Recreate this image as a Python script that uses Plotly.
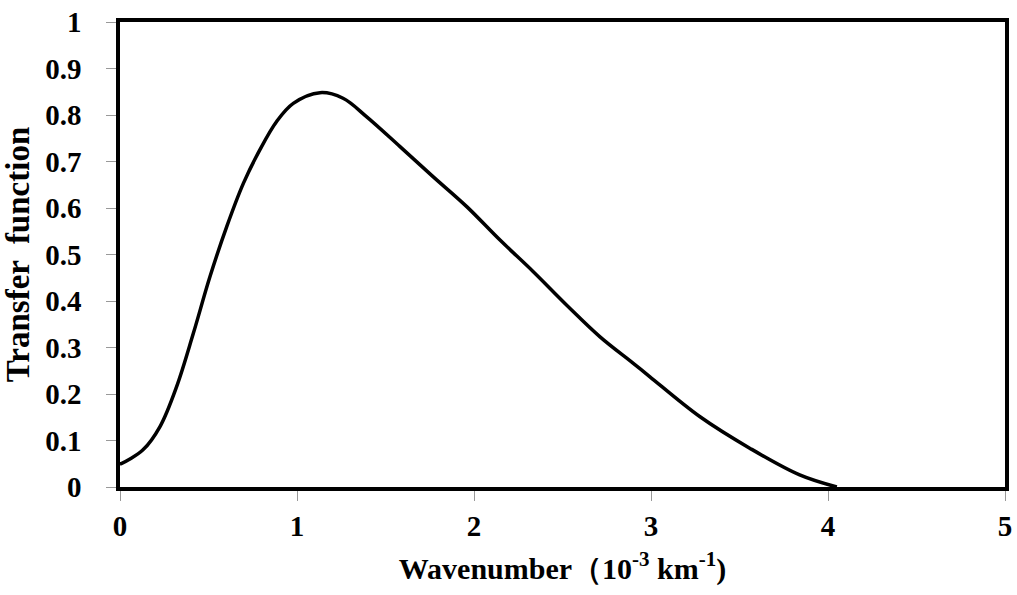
import plotly.graph_objects as go

# values
wavenumber = [0.0, 0.01, 0.13, 0.226, 0.32, 0.414, 0.508, 0.603, 0.697, 0.79, 0.885,
              0.979, 1.13, 1.26, 1.394, 1.582, 1.77, 1.959, 2.147, 2.335, 2.524,
              2.712, 2.9, 2.994, 3.277, 3.56, 3.84, 4.05]
transfer = [0.05, 0.051, 0.08, 0.13, 0.216, 0.33, 0.452, 0.56, 0.653, 0.725, 0.786,
            0.825, 0.848, 0.836, 0.796, 0.732, 0.667, 0.603, 0.531, 0.463, 0.391,
            0.323, 0.266, 0.237, 0.151, 0.083, 0.026, 0.0]

x_ticks = [0, 1, 2, 3, 4, 5]
y_ticks = [0, 0.1, 0.2, 0.3, 0.4, 0.5, 0.6, 0.7, 0.8, 0.9, 1]
y_labels = ["0", "0.1", "0.2", "0.3", "0.4", "0.5", "0.6", "0.7", "0.8", "0.9", "1"]

font = "Liberation Serif, Times New Roman, serif"

fig = go.Figure()
fig.add_trace(go.Scatter(x=wavenumber, y=transfer, mode="lines",
                         line=dict(color="black", width=3.5, shape="spline", smoothing=1),
                         showlegend=False, hoverinfo="skip"))

fig.update_xaxes(range=[0, 5], tickvals=x_ticks, ticktext=[str(t) for t in x_ticks],
                 showgrid=False, zeroline=False, automargin=False,
                 showline=True, linecolor="black", linewidth=3.5, mirror=True,
                 ticks="outside", ticklen=10, tickwidth=1, tickcolor="#999999",
                 ticklabelstandoff=0,
                 tickfont=dict(family=font, size=29, color="black", weight="bold"),
                 title=dict(text="<b>Wavenumber（10<sup>-3</sup> km<sup>-1</sup>)</b>",
                            font=dict(family=font, size=30, color="black"), standoff=18))
fig.update_yaxes(range=[0, 1], tickvals=y_ticks, ticktext=y_labels,
                 showgrid=False, zeroline=False, automargin=False,
                 showline=True, linecolor="black", linewidth=3.5, mirror=True,
                 ticks="outside", ticklen=10, tickwidth=1, tickcolor="#999999",
                 ticklabelstandoff=19,
                 tickfont=dict(family=font, size=29, color="black", weight="bold"),
                 title=dict(text="<b>Transfer  function</b>",
                            font=dict(family=font, size=33, color="black"), standoff=8))

fig.update_layout(width=1017, height=595, plot_bgcolor="white", paper_bgcolor="white",
                  margin=dict(l=120, r=12, t=22, b=108))

# drop the browser's default 8px body margin so the figure sits at the page corner
fig.write_html("out.html", config={"displayModeBar": False},
               post_script="document.body.style.margin='0';")
